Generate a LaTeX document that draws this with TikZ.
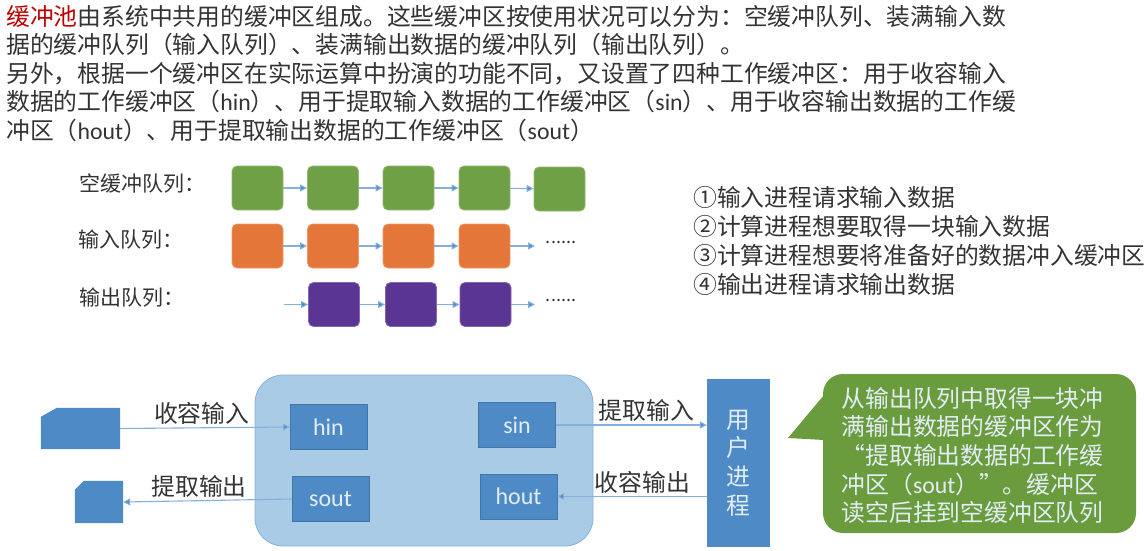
\documentclass[tikz,border=0pt]{standalone}
\usepackage{fontspec}
\setmainfont{Noto Sans CJK SC}
\newfontfamily\latinfont{Carlito}
\usepackage{xcolor}
\usepackage{tikz}
\usetikzlibrary{positioning, arrows.meta}
\setlength{\lineskiplimit}{-100pt}

% full width punctuation
\newcommand{\fwcomma}{\symbol{"FF0C}}
\newcommand{\fwcolon}{\symbol{"FF1A}}
\newcommand{\fwopen}{\symbol{"FF08}}
\newcommand{\fwclose}{\symbol{"FF09}}

\definecolor{emptygreen}{HTML}{70A045}
\definecolor{inorange}{HTML}{E5763A}
\definecolor{outpurple}{HTML}{5B3593}
\definecolor{workblue}{HTML}{4E8BC6}
\definecolor{poolblue}{HTML}{AACBE6}
\definecolor{linkblue}{HTML}{86B0DC}
\definecolor{notegreen}{HTML}{6A9C3D}
\definecolor{softtext}{HTML}{E3EDF6}
\definecolor{inktext}{HTML}{333333}

\begin{document}
\begin{tikzpicture}[
    x=1pt, y=-1pt,
    txt/.style={anchor=west, inner sep=0pt, align=left, text=inktext, font=\fontsize{23.8}{28.6}\selectfont},
    qlabel/.style={anchor=west, inner sep=0pt, text=inktext, font=\fontsize{21}{24}\selectfont},
    buf/.style={rectangle, rounded corners=5pt, minimum width=51pt, minimum height=44pt, inner sep=0pt, draw=#1!75!white, line width=0.8pt, fill=#1},
    work/.style={rectangle, minimum width=77pt, minimum height=45pt, inner sep=0pt, fill=workblue, draw=workblue!85!black, line width=0.4pt, text=softtext, font=\fontsize{24}{28}\latinfont},
    device/.style={rectangle, inner sep=0pt},
    arrow/.style={-{Triangle[length=7pt, width=7pt, fill=workblue]}, line width=1.1pt, draw=linkblue},
    alabel/.style={text=inktext, inner sep=3pt, font=\fontsize{23.8}{28}\selectfont},
    moredots/.style={inner sep=0pt, text=inktext, font=\fontsize{18}{18}\selectfont}
]
\useasboundingbox (0,0) rectangle (1147,550);

% text on top
\node[txt] (para1) at (6,30.5) {\textcolor{red!75!black}{缓冲池}由系统中共用的缓冲区组成。这些缓冲区按使用状况可以分为\fwcolon 空缓冲队列、装满输入数\\据的缓冲队列\fwopen 输入队列\fwclose 、装满输出数据的缓冲队列\fwopen 输出队列\fwclose 。};
\node[txt] (para2) at (6,102) {另外\fwcomma 根据一个缓冲区在实际运算中扮演的功能不同\fwcomma 又设置了四种工作缓冲区\fwcolon 用于收容输入\\数据的工作缓冲区\fwopen{\latinfont hin}\fwclose 、用于提取输入数据的工作缓冲区\fwopen{\latinfont sin}\fwclose 、用于收容输出数据的工作缓\\冲区\fwopen{\latinfont hout}\fwclose 、用于提取输出数据的工作缓冲区\fwopen{\latinfont sout}\fwclose};

% queues
\node[qlabel] (qe) at (79,184) {空缓冲队列\fwcolon};
\node[qlabel] (qi) at (78,240) {输入队列\fwcolon};
\node[qlabel] (qo) at (79,298) {输出队列\fwcolon};

\node[buf=emptygreen] (e1) at (257.5,188) {};
\node[buf=emptygreen] (e2) at (333,188) {};
\node[buf=emptygreen] (e3) at (408.5,188) {};
\node[buf=emptygreen] (e4) at (484.5,188) {};
\node[buf=emptygreen] (e5) at (559.5,189) {};
\draw[arrow] (e1) -- (e2);
\draw[arrow] (e2) -- (e3);
\draw[arrow] (e3) -- (e4);
\draw[arrow] (e4) -- (e5);

\node[buf=inorange] (i1) at (257.5,246) {};
\node[buf=inorange] (i2) at (333,246) {};
\node[buf=inorange] (i3) at (408.5,246) {};
\node[buf=inorange] (i4) at (484.5,246) {};
\coordinate (iend) at (535,246);
\draw[arrow] (i1) -- (i2);
\draw[arrow] (i2) -- (i3);
\draw[arrow] (i3) -- (i4);
\draw[arrow] (i4) -- (iend);
\node[moredots] (idots) at (561,242) {......};

\coordinate (ostart) at (284,304.5);
\node[buf=outpurple] (o1) at (334,304.5) {};
\node[buf=outpurple] (o2) at (411,304.5) {};
\node[buf=outpurple] (o3) at (485.5,304.5) {};
\coordinate (oend) at (535,304.5);
\draw[arrow] (ostart) -- (o1);
\draw[arrow] (o1) -- (o2);
\draw[arrow] (o2) -- (o3);
\draw[arrow] (o3) -- (oend);
\node[moredots] (odots) at (561,300) {......};

% steps
\node[txt, font=\fontsize{23.8}{29}\selectfont] (steps) at (693,240.5) {①输入进程请求输入数据\\②计算进程想要取得一块输入数据\\③计算进程想要将准备好的数据冲入缓冲区\\④输出进程请求输出数据};

% pool and working buffers
\node[rectangle, rounded corners=28pt, minimum width=338pt, minimum height=171pt, inner sep=0pt, fill=poolblue, draw=linkblue, line width=0.8pt] (pool) at (424,460.5) {};
\node[work] (hin) at (328.5,427) {hin};
\node[work] (sout) at (330.5,499) {sout};
\node[work] (sin) at (517,425) {sin};
\node[work] (hout) at (518.5,496.5) {hout};

\node[device, minimum width=79pt, minimum height=41pt] (indev) at (80.5,428.5) {};
\fill[workblue] (indev.south west) -- ([yshift=-9pt]indev.north west) -- ([xshift=16pt]indev.north west) -- (indev.north east) -- (indev.south east) -- cycle;
\node[device, minimum width=48pt, minimum height=42pt] (outdev) at (99,502) {};
\fill[workblue] (outdev.south west) -- ([yshift=-9pt]outdev.north west) -- ([xshift=9pt]outdev.north west) -- (outdev.north east) -- (outdev.south east) -- cycle;
\node[rectangle, minimum width=63pt, minimum height=168pt, inner sep=0pt, fill=workblue, align=center, text=softtext, font=\fontsize{23.8}{28.6}\selectfont] (user) at (738.5,463) {用\\户\\进\\程};

\draw[arrow] (indev.east) -- (hin.west) node[pos=0.48, above, alabel] {收容输入};
\draw[arrow] (sout.west) -- (outdev.east) node[pos=0.55, above, alabel] {提取输出};
\draw[arrow] (sin.east) -- (user.west |- sin.east) node[pos=0.6, above, alabel] {提取输入};
\draw[arrow] (user.west |- hout.east) -- (hout.east) node[pos=0.43, above, alabel] {收容输出};

% note bubble
\node[rectangle, rounded corners=20pt, minimum width=313pt, minimum height=159pt, inner sep=0pt, fill=notegreen] (note) at (979.5,453.5) {};
\coordinate (tip) at (788,438);
\fill[notegreen] (tip) -- (824,395) -- (824,440) -- cycle;
\node[inner sep=0pt, align=left, text=softtext, font=\fontsize{23.8}{28.7}\selectfont] (notetext) at (972.5,455.5) {从输出队列中取得一块冲\\满输出数据的缓冲区作为\\“提取输出数据的工作缓\\冲区\fwopen{\latinfont sout}\fwclose ”。缓冲区\\读空后挂到空缓冲区队列};

\end{tikzpicture}
\end{document}
